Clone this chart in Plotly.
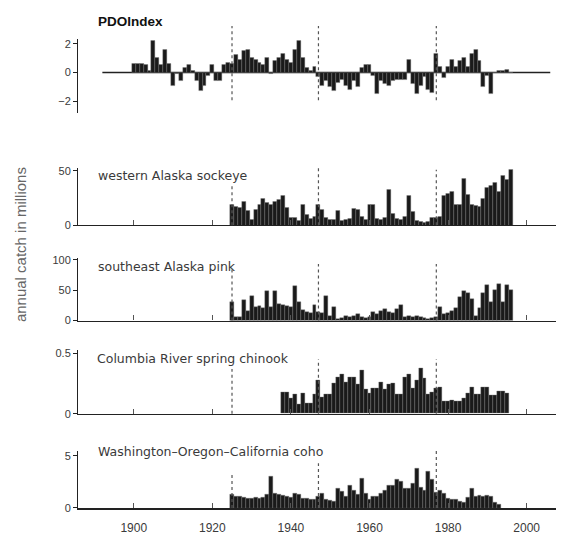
import plotly.graph_objects as go

# ---------------- data ----------------
pdo_years = list(range(1900, 1997))
pdo_values = [0.6, 0.6, 0.6, 0.55, 0.1, 2.2, 1.0, 0.5, 1.6, 0.6,
              -0.9, -0.1, -0.6, 0.3, 0.5, 0.1, -0.6, -1.3, -0.9, -0.2,
              0.5, -0.6, -0.6, 0.5, 0.7, 0.6, 1.2, 0.9, 1.5, 1.6,
              1.0, 0.9, 0.7, 0.5, 1.0, -0.1, 0.8, 1.0, 1.3, 0.9,
              0.7, 1.6, 2.2, 1.0, 0.3, 0.1, 0.4, -0.3, -0.9, -0.6,
              -1.0, -1.3, -0.7, -0.5, -0.9, -1.2, -0.6, -1.0, 0.3, 0.5,
              0.5, -0.2, -1.5, -0.6, -0.8, -0.9, -0.6, -0.5, -0.5, -0.5,
              0.9, -0.8, -1.5, -0.9, -0.3, -1.2, -1.4, 1.3, 0.4, -0.4,
              0.4, 0.9, 0.4, 0.8, 1.0, 0.4, 1.3, 1.6, 0.8, -1.0,
              -0.2, -1.5, 0.0, 0.1, 0.1, 0.2, 0.0]

sockeye_years = list(range(1925, 1997))
sockeye_values = [19, 17, 16, 22, 13, 5, 14, 19, 24, 21,
                  19, 22, 23, 27, 16, 7, 7, 4, 19, 10,
                  6, 8, 19, 14, 7, 5, 5, 13, 4, 5,
                  6, 15, 14, 8, 5, 19, 19, 6, 5, 7,
                  33, 11, 6, 5, 8, 27, 12, 4, 3, 2,
                  3, 7, 7, 8, 27, 29, 31, 19, 19, 43,
                  28, 19, 18, 17, 24, 34, 36, 39, 31, 45,
                  42, 51]

pink_years = list(range(1925, 1997))
pink_values = [30, 5, 6, 33, 16, 41, 22, 24, 20, 49,
               22, 49, 27, 25, 24, 22, 57, 30, 17, 14,
               12, 25, 14, 13, 41, 8, 22, 3, 4, 7,
               6, 7, 11, 5, 4, 6, 14, 10, 15, 19,
               14, 12, 19, 25, 5, 8, 6, 8, 6, 4,
               3, 4, 6, 22, 11, 13, 16, 20, 38, 49,
               46, 36, 8, 20, 45, 59, 31, 50, 60, 31,
               59, 51]

chinook_years = list(range(1938, 1996))
chinook_values = [0.18, 0.18, 0.13, 0.16, 0.08, 0.17, 0.09, 0.09, 0.16, 0.28,
                  0.14, 0.16, 0.16, 0.25, 0.30, 0.33, 0.26, 0.30, 0.30, 0.24,
                  0.36, 0.20, 0.17, 0.21, 0.21, 0.26, 0.20, 0.24, 0.25, 0.16,
                  0.16, 0.30, 0.33, 0.21, 0.28, 0.38, 0.29, 0.16, 0.18, 0.21,
                  0.22, 0.10, 0.10, 0.115, 0.10, 0.10, 0.13, 0.17, 0.22, 0.16,
                  0.16, 0.22, 0.22, 0.15, 0.15, 0.19, 0.19, 0.17]

coho_years = list(range(1925, 1994))
coho_values = [1.3, 1.1, 1.1, 1.0, 0.9, 0.95, 1.0, 0.9, 1.0, 1.26,
               3.0, 1.4, 1.26, 1.2, 1.1, 1.0, 1.4, 1.3, 0.95, 0.9,
               0.8, 0.8, 1.1, 1.4, 0.8, 0.7, 0.6, 1.9, 1.57, 1.1,
               2.2, 1.7, 1.26, 2.8, 1.4, 0.8, 1.1, 1.1, 1.4, 1.7,
               2.2, 2.2, 2.7, 2.5, 1.9, 1.9, 2.36, 3.8, 2.0, 1.7,
               3.5, 2.7, 1.5, 1.7, 1.4, 0.95, 0.8, 0.8, 0.6, 0.5,
               1.0, 1.9, 1.1, 1.2, 1.1, 1.2, 1.1, 0.5, 0.3]

regime_years = [1925, 1947, 1977]
x_tick_years = [1900, 1920, 1940, 1960, 1980, 2000]
panel_titles = ["PDOIndex", "western Alaska sockeye", "southeast Alaska pink",
                "Columbia River spring chinook", "Washington\u2013Oregon\u2013California coho"]
y_title = "annual catch in millions"
pdo_ticks = [-2, 0, 2]
sockeye_ticks = [0, 50]
pink_ticks = [0, 50, 100]
chinook_ticks = [0, 0.5]
coho_ticks = [0, 5]
pdo_line_span = (1892, 2006)

# ---------------- layout geometry ----------------
# the page body adds an 8px offset, so the figure is 8px smaller and all
# window-pixel positions below are shifted by OFF
OFF = 8
WIN_W, WIN_H = 564, 539
W, H = WIN_W - OFF, WIN_H - OFF
AXIS_X = 78          # window x of the y axes
PLOT_BOTTOM = 508    # window y of the bottom axis
ML = AXIS_X - OFF
PH = PLOT_BOTTOM - OFF
MB = H - PH


def py(pix):
    return (PH - (pix - OFF)) / PH


def px(pix):
    return (pix - OFF - ML) / (W - ML)


X_RANGE = [1885.8, 2009.5]
FONT = "Liberation Sans, Arial, sans-serif"
TITLE_FONT = "DejaVu Sans, Liberation Sans, sans-serif"
TXT = "#3a3a3a"
AX = "#222222"

panels = [
    dict(bot=110, top=35, rng=[-2.83, 2.34], ticks=pdo_ticks),
    dict(bot=223, top=165, rng=[0, 52.7], ticks=sockeye_ticks),
    dict(bot=319, top=256, rng=[0, 103], ticks=pink_ticks),
    dict(bot=413, top=349, rng=[0, 0.525], ticks=chinook_ticks),
    dict(bot=508, top=451, rng=[0, 5.4], ticks=coho_ticks),
]

series = [(pdo_years, pdo_values), (sockeye_years, sockeye_values),
          (pink_years, pink_values), (chinook_years, chinook_values),
          (coho_years, coho_values)]

fig = go.Figure()
for i, (xs, ys) in enumerate(series):
    n = "" if i == 0 else str(i + 1)
    fig.add_trace(go.Bar(x=xs, y=ys, xaxis="x" + n, yaxis="y" + n,
                         width=1.0,
                         marker=dict(color="#1a1a1a", line=dict(color="#777777", width=0.4)),
                         showlegend=False, hoverinfo="x+y"))

layout = dict(width=W, height=H, margin=dict(l=ML, r=0, t=0, b=MB),
              paper_bgcolor="white", plot_bgcolor="white",
              font=dict(family=FONT, color=TXT), bargap=0, showlegend=False)

for i, p in enumerate(panels):
    n = "" if i == 0 else str(i + 1)
    xa = dict(range=X_RANGE, domain=[0, 1], anchor="y" + n, showgrid=False,
              zeroline=False, fixedrange=True)
    if i == 0:
        xa.update(visible=False)
    else:
        xa.update(showline=True, linecolor=AX, linewidth=1.6 if i == 4 else 1.3,
                  ticks="inside", ticklen=5, tickcolor="#555", tickwidth=1,
                  tickvals=x_tick_years, showticklabels=(i == 4),
                  tickfont=dict(size=12, color=TXT, family=FONT),
                  ticklabelstandoff=8)
    ya = dict(range=p["rng"], domain=[py(p["bot"]), py(p["top"])], anchor="x" + n,
              showline=True, linecolor=AX, linewidth=1, ticks="outside", ticklen=4,
              tickcolor=AX, tickvals=p["ticks"], showgrid=False, zeroline=False,
              tickfont=dict(size=11, color=TXT, family=FONT), fixedrange=True)
    layout["xaxis" + n] = xa
    layout["yaxis" + n] = ya

fig.update_layout(**layout)

# PDO zero line segment
fig.add_shape(type="line", xref="x", yref="y", x0=pdo_line_span[0], x1=pdo_line_span[1],
              y0=0, y1=0, line=dict(color=AX, width=1.5), layer="below")

# dotted regime lines (window-pixel extents per panel: top for each year, bottom)
dotted = [
    ([22, 22, 22], 97),
    ([183, 165, 167], 223),
    ([265, 262, 262], 319),
    ([368, 358, 358], 413),
    ([472, 463, 450], 508),
]
for tops, bot in dotted:
    for yr, tp in zip(regime_years, tops):
        fig.add_shape(type="line", xref="x", yref="paper", x0=yr, x1=yr,
                      y0=py(bot), y1=py(tp),
                      line=dict(color="#555555", width=1.2, dash="dot"))

# titles
title_pos = [(96, 18), (96, 173), (96, 265), (95, 357), (96, 451)]
for i, (t, (tx, ty)) in enumerate(zip(panel_titles, title_pos)):
    if i == 0:
        fnt = dict(size=13.5, color="#111", family=FONT)
        txt = "<b>%s</b>" % t
    else:
        fnt = dict(size=12.5, color=TXT, family=TITLE_FONT)
        txt = t
    fig.add_annotation(text=txt, xref="paper", yref="paper", x=px(tx), y=py(ty),
                       xanchor="left", yanchor="middle", showarrow=False, font=fnt)

fig.add_annotation(text=y_title, xref="paper", yref="paper",
                   x=px(20), y=py(243), textangle=-90,
                   xanchor="center", yanchor="middle", showarrow=False,
                   font=dict(size=15, color="#666", family=FONT))

fig.write_html("out.html")
